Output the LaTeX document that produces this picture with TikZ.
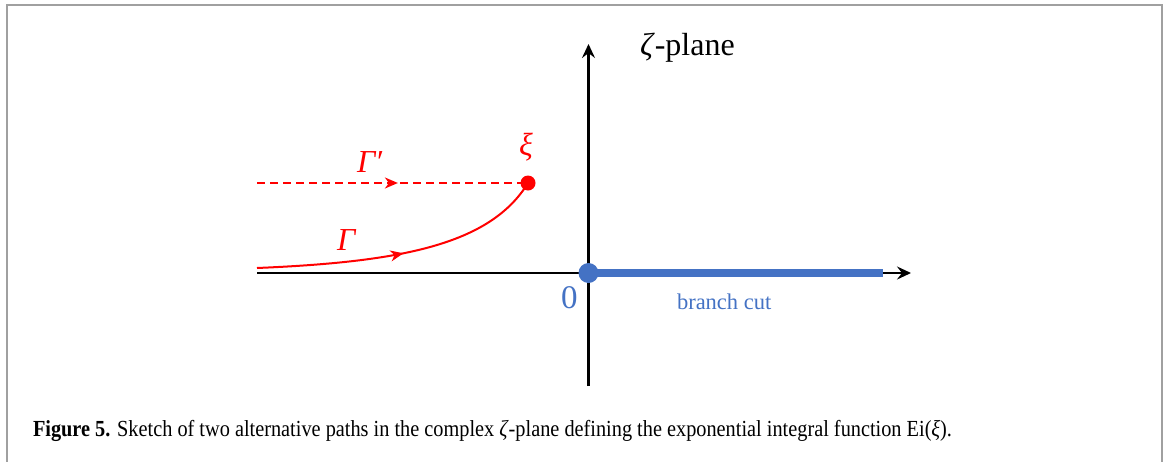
\documentclass[tikz,border=0pt]{standalone}
\usepackage{fontspec}
\setmainfont{Liberation Serif}
\usetikzlibrary{arrows.meta,decorations.markings}
\definecolor{cutblue}{RGB}{68,114,196}
\definecolor{framegray}{RGB}{160,160,160}
\newsavebox\mycapbox
\newlength\mycapwd
\begin{document}
\sbox\mycapbox{\fontsize{23}{27}\selectfont\textbf{Figure 5.} Sketch of two alternative paths in the complex \textit{ζ}-plane defining the exponential integral function Ei(\textit{ξ}).}%
\setlength\mycapwd{\wd\mycapbox}%
\pgfmathsetmacro\mycapratio{919/\mycapwd}%
\begin{tikzpicture}[x=1pt,y=-1pt,
  axis/.style={draw=black, line width=2.6pt, -{Stealth[length=14pt,width=13pt,inset=5pt]}},
  redpath/.style={draw=red, line width=2pt},
  midarrow/.style={postaction={decorate},
    decoration={markings, mark=at position #1 with {\arrow[solid,red]{Stealth[length=13pt,width=11pt,inset=4pt]}}}},
  reddot/.style={circle, fill=red, inner sep=0pt, minimum size=15pt},
  bluedot/.style={circle, fill=cutblue, inner sep=0pt, minimum size=20pt},
  lbl/.style={inner sep=0pt, outer sep=0pt},
]
\useasboundingbox (0,0) rectangle (1170,461);
\draw[framegray, line width=2pt] (6.5,462) -- (6.5,5) -- (1162,5) -- (1162,462);

\coordinate (xl) at (257,273);
\coordinate (xr) at (911,273);
\coordinate (yb) at (588.5,386);
\coordinate (yt) at (588.5,44);
\coordinate (O) at (588.5,273);
\coordinate (bc) at (883,273);
\coordinate (gs) at (257,268);
\coordinate (gps) at (257,183);
\coordinate (xipt) at (528,183);

\draw[axis] (xl) -- (xr);
\draw[axis] (yb) -- (yt);
\draw[cutblue, line width=8pt] (O) -- (bc);
\node[bluedot] (zero) at (O) {};

\draw[redpath, midarrow=0.5] (gs) .. controls (400,262) and (490,245) .. (xipt);
\draw[redpath, dash pattern=on 8pt off 5pt, midarrow=0.52] (gps) -- (xipt);
\node[reddot] (xi) at (xipt) {};

\node[lbl, anchor=base west, font=\fontsize{32}{36}\selectfont] (plane) at (640,55) {\textit{ζ}-plane};
\node[lbl, anchor=base west, red, font=\fontsize{32}{36}\selectfont\itshape] (gp) at (357,172) {Γ′};
\node[lbl, anchor=base west, red, font=\fontsize{32}{36}\selectfont\itshape] (g) at (337,250) {Γ};
\node[lbl, anchor=center, red, font=\fontsize{32}{36}\selectfont\itshape] (xilab) at (526,147) {ξ};
\node[lbl, anchor=base west, cutblue, font=\fontsize{33}{36}\selectfont] (zerolab) at (561,308) {0};
\node[lbl, anchor=base west, cutblue, font=\fontsize{22.5}{26}\selectfont] (cut) at (677,309) {branch cut};

\node[lbl, anchor=base west] (cap) at (33,436.5) {\scalebox{\mycapratio}[1]{\usebox\mycapbox}};
\end{tikzpicture}
\end{document}
